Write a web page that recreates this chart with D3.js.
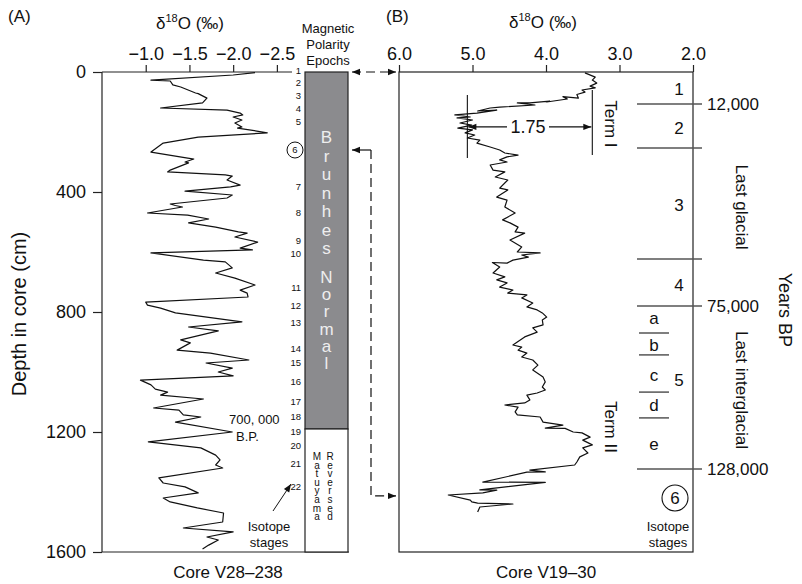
<!DOCTYPE html>
<html><head><meta charset="utf-8">
<script src="https://cdn.jsdelivr.net/npm/d3@7"></script>
<style>
body{margin:0;background:#fff;}
svg text{font-family:"Liberation Sans",Arial,Helvetica,sans-serif;fill:#111;}
.vert{writing-mode:vertical-rl;text-orientation:upright;}
</style></head>
<body>
<svg id="chart" width="802" height="584"></svg>
<script>
// ---------- DATA ----------
// Core V28-238 (panel A): depth (cm) and δ18O (‰)
const depthA = [2,10,27,30,43,50,70,72,87,103,120,127,137,143,150,160,170,183,187,197,203,217,237,267,287,290,300,303,327,333,343,347,360,377,383,397,410,420,440,445,450,470,477,490,503,517,533,537,550,567,587,593,603,627,633,653,670,687,710,727,737,750,767,777,787,803,833,850,863,893,903,927,937,960,970,987,1000,1013,1027,1043,1057,1067,1077,1090,1120,1127,1143,1150,1167,1200,1233,1253,1277,1293,1310,1320,1353,1370,1383,1403,1420,1433,1453,1470,1500,1520,1533,1550,1560,1577,1590];
const d18OA = [-2.25,-2.00,-1.06,-1.28,-1.31,-1.40,-1.57,-1.60,-1.70,-1.65,-1.17,-1.93,-2.08,-2.11,-2.00,-2.10,-2.02,-2.10,-2.05,-2.27,-2.39,-1.60,-1.20,-1.06,-1.48,-1.55,-1.45,-1.49,-1.28,-1.25,-1.91,-1.99,-1.93,-2.08,-1.97,-1.45,-1.99,-1.93,-1.28,-1.34,-1.42,-1.02,-1.48,-1.72,-1.49,-1.80,-2.06,-2.16,-2.02,-2.28,-2.08,-2.22,-1.06,-1.66,-1.91,-1.99,-1.80,-2.02,-2.25,-2.08,-2.16,-2.17,-1.00,-1.02,-1.17,-1.34,-2.10,-1.49,-1.83,-1.40,-1.51,-1.36,-1.74,-2.18,-1.69,-1.99,-1.83,-2.00,-0.94,-1.06,-1.11,-1.25,-1.17,-1.66,-1.09,-1.38,-1.43,-1.63,-1.34,-1.99,-1.03,-1.63,-1.80,-1.85,-1.80,-1.88,-1.15,-1.20,-1.45,-1.60,-1.20,-1.28,-1.59,-1.89,-1.88,-1.43,-2.00,-1.70,-1.83,-1.72,-1.65];

// Core V19-30 (panel B): depth (cm) and δ18O (‰)
const depthB = [3,17,27,37,47,53,60,67,75,87,82,90,100,97,103,103,110,117,120,130,127,137,143,150,153,160,170,177,187,193,203,210,220,227,237,250,260,270,277,283,293,300,310,327,333,350,360,387,393,417,427,450,470,493,503,517,533,537,560,583,600,603,610,617,627,637,635,650,670,683,693,703,717,727,737,743,753,770,783,793,803,817,827,843,853,867,883,900,910,917,927,937,950,960,977,993,1017,1033,1050,1060,1070,1077,1093,1103,1110,1117,1133,1143,1150,1167,1177,1187,1188,1200,1203,1217,1227,1243,1253,1270,1283,1300,1310,1327,1333,1334,1367,1368,1393,1394,1403,1410,1427,1433,1437,1440,1450,1467];
const d18OB = [3.47,3.33,3.37,3.31,3.40,3.33,3.51,3.47,3.58,3.56,3.77,3.71,3.99,3.95,4.22,4.39,4.15,4.63,4.76,4.93,4.67,4.94,5.24,5.03,5.21,5.00,5.17,5.01,5.20,5.00,5.10,4.97,5.07,4.90,4.94,4.76,4.63,4.56,4.38,4.53,4.63,4.53,4.76,4.72,4.56,4.69,4.52,4.63,4.52,4.67,4.53,4.56,4.42,4.59,4.49,4.38,4.42,4.29,4.49,4.33,4.39,4.08,4.33,4.24,4.45,4.53,4.73,4.63,4.72,4.56,4.67,4.53,4.63,4.45,4.52,4.26,4.33,4.18,4.26,4.12,4.05,3.99,4.05,4.04,4.18,4.12,4.29,4.39,4.45,4.33,4.38,4.26,4.33,4.18,4.11,4.18,4.04,4.01,4.05,4.01,4.12,4.26,4.22,4.29,4.56,4.38,4.42,4.39,4.08,4.04,3.77,4.01,3.74,3.63,3.51,3.40,3.50,3.37,3.50,3.43,3.54,3.58,3.61,4.22,4.01,4.26,4.86,4.01,4.90,4.67,4.86,5.33,5.03,5.01,4.93,4.45,4.90,4.93];

// Axis ticks
const depthTicks = [0,400,800,1200,1600];
const ticksA = [-1.0,-1.5,-2.0,-2.5];
const ticksB = [6.0,5.0,4.0,3.0,2.0];

// Isotope stages along core V28-238 (label, depth cm)
const stageLabelsA = ["1","2","3","4","5","6","7","8","9","10","11","12","13","14","15","16","17","18","19","20","21","22"];
const stageDepthsA = [-3,37,80,123,167,260,383,470,563,607,720,780,837,923,970,1033,1100,1150,1200,1247,1307,1383];
const brunhesBase = 1190; // depth of Brunhes/Matuyama boundary

// Panel B stage boundaries (depth cm)
const stageBoundsB = [107,253,623,780,1323];
const subBoundsB = [870,943,1067,1153];
const stageNamesB = ["1","2","3","4","5"];
const stageNameDepthsB = [57,187,443,710,1027];
const subNamesB = ["a","b","c","d","e"];
const subNameDepthsB = [820,910,1010,1110,1240];
const ageLabels = ["12,000","75,000","128,000"];
const ageDepths = [107,780,1323];

// ---------- CHART ----------
const svg = d3.select("#chart");
const y = d3.scaleLinear().domain([0,1600]).range([72,552]);
const xA = d3.scaleLinear().domain([-0.5,-2.65]).range([102,290]);
const xB = d3.scaleLinear().domain([6,2]).range([399,693]);
const fmt = d3.format(".1f");
const ink = "#222";

const defs = svg.append("defs");
defs.append("marker").attr("id","ah").attr("viewBox","0 0 10 10").attr("refX",10).attr("refY",5)
  .attr("markerWidth",11).attr("markerHeight",8).attr("markerUnits","userSpaceOnUse").attr("orient","auto-start-reverse")
  .append("path").attr("d","M0,1 L10,5 L0,9 Z").attr("fill","#111");

svg.append("text").attr("x",8).attr("y",22).attr("font-size",17).text("(A)");
svg.append("text").attr("x",386).attr("y",22).attr("font-size",17).text("(B)");

function d18Title(cx, by){
  const t = svg.append("text").attr("x",cx).attr("y",by).attr("text-anchor","middle").attr("font-size",17);
  t.append("tspan").text("δ");
  t.append("tspan").attr("font-size",11).attr("dy",-7).text("18");
  t.append("tspan").attr("dy",7).text("O (‰)");
}
d18Title(190,29);
d18Title(543,28);

// ----- Panel A -----
const gA = svg.append("g");
const axA = d3.axisTop(xA).tickValues(ticksA).tickFormat(fmt).tickSize(7).tickSizeOuter(0).tickPadding(5);
const gAx = gA.append("g").attr("transform","translate(0,72)").call(axA);
gAx.select(".domain").remove();
gAx.selectAll("line").attr("stroke",ink).attr("stroke-width",1.2);
gAx.selectAll("text").attr("font-size",18).attr("fill","#111").attr("font-family","Liberation Sans, Arial, sans-serif");
const ayA = d3.axisLeft(y).tickValues(depthTicks).tickFormat(d3.format("d")).tickSize(9).tickPadding(7);
const gAy = gA.append("g").attr("transform","translate(102,0)").call(ayA);
gAy.select(".domain").remove();
gAy.selectAll("line").attr("stroke",ink).attr("stroke-width",1.2);
gAy.selectAll("text").attr("font-size",18).attr("fill","#111").attr("font-family","Liberation Sans, Arial, sans-serif");
gA.append("line").attr("x1",102).attr("x2",292).attr("y1",72).attr("y2",72).attr("stroke",ink).attr("stroke-width",1.2);
gA.append("line").attr("x1",102).attr("x2",102).attr("y1",72).attr("y2",552).attr("stroke",ink).attr("stroke-width",1.2);
gA.append("line").attr("x1",102).attr("x2",349).attr("y1",552).attr("y2",552).attr("stroke",ink).attr("stroke-width",1.2);

svg.append("text").attr("transform","translate(26,314) rotate(-90)").attr("text-anchor","middle").attr("font-size",20).text("Depth in core (cm)");

const lineA = d3.line().x((d,i)=>xA(d18OA[i])).y(d=>y(d));
gA.append("path").datum(depthA).attr("d",lineA).attr("fill","none").attr("stroke","#111").attr("stroke-width",1.2).attr("stroke-linejoin","round");

gA.append("text").attr("x",229).attr("y",424).attr("font-size",13).text("700, 000");
gA.append("text").attr("x",236).attr("y",441).attr("font-size",13).text("B.P.");

// polarity column
const colX0 = 305, colX1 = 348, colMid = (colX0+colX1)/2;
gA.append("rect").attr("x",colX0).attr("y",y(0)).attr("width",colX1-colX0).attr("height",y(brunhesBase)-y(0))
  .attr("fill","#8b8b8e").attr("stroke",ink).attr("stroke-width",1.2);
gA.append("rect").attr("x",colX0).attr("y",y(brunhesBase)).attr("width",colX1-colX0).attr("height",y(1600)-y(brunhesBase))
  .attr("fill","#fff").attr("stroke",ink).attr("stroke-width",1.2);
// vertical stacked words
gA.append("text").attr("class","vert").attr("x",colMid).attr("y",128).attr("font-size",17).attr("letter-spacing","-0.5px").style("fill","#eeeeee").text("Brunhes");
gA.append("text").attr("class","vert").attr("x",colMid).attr("y",268).attr("font-size",17).attr("letter-spacing","-1.8px").style("fill","#eeeeee").text("Normal");
gA.append("text").attr("class","vert").attr("x",317).attr("y",451).attr("font-size",10).attr("letter-spacing","-2.4px").text("Matuyama");
gA.append("text").attr("class","vert").attr("x",330).attr("y",451).attr("font-size",10).attr("letter-spacing","-2.4px").text("Reversed");

[["Magnetic",33],["Polarity",49],["Epochs",65]].forEach(([t,b])=>
  svg.append("text").attr("x",328).attr("y",b).attr("text-anchor","middle").attr("font-size",13).text(t));

// stage numbers
stageLabelsA.forEach((s,i)=>{
  if(s==="6"){
    gA.append("circle").attr("cx",295).attr("cy",y(stageDepthsA[i])).attr("r",8).attr("fill","none").attr("stroke","#111").attr("stroke-width",1);
    gA.append("text").attr("x",295).attr("y",y(stageDepthsA[i])+3.3).attr("text-anchor","middle").attr("font-size",9.5).text(s);
  } else {
    gA.append("text").attr("x",301).attr("y",y(stageDepthsA[i])+3.3).attr("text-anchor","end").attr("font-size",9.5).text(s);
  }
});
gA.append("text").attr("x",269).attr("y",531).attr("text-anchor","middle").attr("font-size",13).text("Isotope");
gA.append("text").attr("x",269).attr("y",547).attr("text-anchor","middle").attr("font-size",13).text("stages");
gA.append("line").attr("x1",273).attr("y1",511).attr("x2",291).attr("y2",484).attr("stroke","#111").attr("stroke-width",1).attr("marker-end","url(#ah)");

// dashed connectors
svg.append("line").attr("x1",352).attr("x2",396).attr("y1",y(0)).attr("y2",y(0)).attr("stroke","#111").attr("stroke-width",1.2)
  .attr("stroke-dasharray","9,5").attr("marker-start","url(#ah)").attr("marker-end","url(#ah)");
svg.append("path").attr("d",`M371,${y(260)} L371,${y(1413)} L396,${y(1413)}`).attr("fill","none").attr("stroke","#111").attr("stroke-width",1.2).attr("stroke-dasharray","9,5").attr("marker-end","url(#ah)");
svg.append("line").attr("x1",371).attr("x2",352).attr("y1",y(260)).attr("y2",y(260)).attr("stroke","#111").attr("stroke-width",1.2).attr("marker-end","url(#ah)");

// ----- Panel B -----
const gB = svg.append("g");
const axB = d3.axisTop(xB).tickValues(ticksB).tickFormat(fmt).tickSize(7).tickSizeOuter(0).tickPadding(5);
const gBx = gB.append("g").attr("transform","translate(0,72)").call(axB);
gBx.select(".domain").remove();
gBx.selectAll("line").attr("stroke",ink).attr("stroke-width",1.2);
gBx.selectAll("text").attr("font-size",18).attr("fill","#111").attr("font-family","Liberation Sans, Arial, sans-serif");
gB.append("rect").attr("x",399).attr("y",72).attr("width",294).attr("height",480).attr("fill","none").attr("stroke",ink).attr("stroke-width",1.2);

const lineB = d3.line().x((d,i)=>xB(d18OB[i])).y(d=>y(d));
gB.append("path").datum(depthB).attr("d",lineB).attr("fill","none").attr("stroke","#111").attr("stroke-width",1.2).attr("stroke-linejoin","round");

// 1.75 annotation
const tL = 5.07, tR = 3.37;
gB.append("line").attr("x1",xB(tL)).attr("x2",xB(tL)).attr("y1",y(77)).attr("y2",y(287)).attr("stroke","#111").attr("stroke-width",1.1);
gB.append("line").attr("x1",xB(tR)).attr("x2",xB(tR)).attr("y1",y(60)).attr("y2",y(277)).attr("stroke","#111").attr("stroke-width",1.1);
gB.append("line").attr("x1",507).attr("x2",xB(tL)+1).attr("y1",y(183)).attr("y2",y(183)).attr("stroke","#111").attr("stroke-width",1.1).attr("marker-end","url(#ah)");
gB.append("line").attr("x1",549).attr("x2",xB(tR)-1).attr("y1",y(183)).attr("y2",y(183)).attr("stroke","#111").attr("stroke-width",1.1).attr("marker-end","url(#ah)");
gB.append("text").attr("x",528).attr("y",y(183)+6.5).attr("text-anchor","middle").attr("font-size",18).text("1.75");

gB.append("text").attr("transform",`translate(605,${y(173)}) rotate(90)`).attr("text-anchor","middle").attr("font-size",17).text("Term I");
gB.append("text").attr("transform",`translate(605,${y(1183)}) rotate(90)`).attr("text-anchor","middle").attr("font-size",17).text("Term II");

stageBoundsB.forEach(d=>gB.append("line").attr("x1",637).attr("x2",702).attr("y1",y(d)).attr("y2",y(d)).attr("stroke","#555").attr("stroke-width",1.5));
subBoundsB.forEach(d=>gB.append("line").attr("x1",639).attr("x2",669).attr("y1",y(d)).attr("y2",y(d)).attr("stroke","#555").attr("stroke-width",1.5));
stageNamesB.forEach((s,i)=>gB.append("text").attr("x",679).attr("y",y(stageNameDepthsB[i])+6).attr("text-anchor","middle").attr("font-size",17).text(s));
subNamesB.forEach((s,i)=>gB.append("text").attr("x",654).attr("y",y(subNameDepthsB[i])+5.5).attr("text-anchor","middle").attr("font-size",17).text(s));
gB.append("circle").attr("cx",675).attr("cy",y(1420)).attr("r",13).attr("fill","none").attr("stroke","#111").attr("stroke-width",1.1);
gB.append("text").attr("x",675).attr("y",y(1420)+6).attr("text-anchor","middle").attr("font-size",17).text("6");
gB.append("text").attr("x",668).attr("y",531).attr("text-anchor","middle").attr("font-size",13).text("Isotope");
gB.append("text").attr("x",668).attr("y",547).attr("text-anchor","middle").attr("font-size",13).text("stages");

ageLabels.forEach((t,i)=>gB.append("text").attr("x",707).attr("y",y(ageDepths[i])+6).attr("font-size",17).text(t));
gB.append("text").attr("transform",`translate(736,${y(450)}) rotate(90)`).attr("text-anchor","middle").attr("font-size",17).text("Last glacial");
gB.append("text").attr("transform",`translate(736,${y(1060)}) rotate(90)`).attr("text-anchor","middle").attr("font-size",17).text("Last interglacial");
gB.append("text").attr("transform",`translate(779,${y(793)}) rotate(90)`).attr("text-anchor","middle").attr("font-size",18).text("Years BP");

svg.append("text").attr("x",228).attr("y",578).attr("text-anchor","middle").attr("font-size",17).text("Core V28–238");
svg.append("text").attr("x",546).attr("y",578).attr("text-anchor","middle").attr("font-size",17).text("Core V19–30");
</script>
</body></html>
